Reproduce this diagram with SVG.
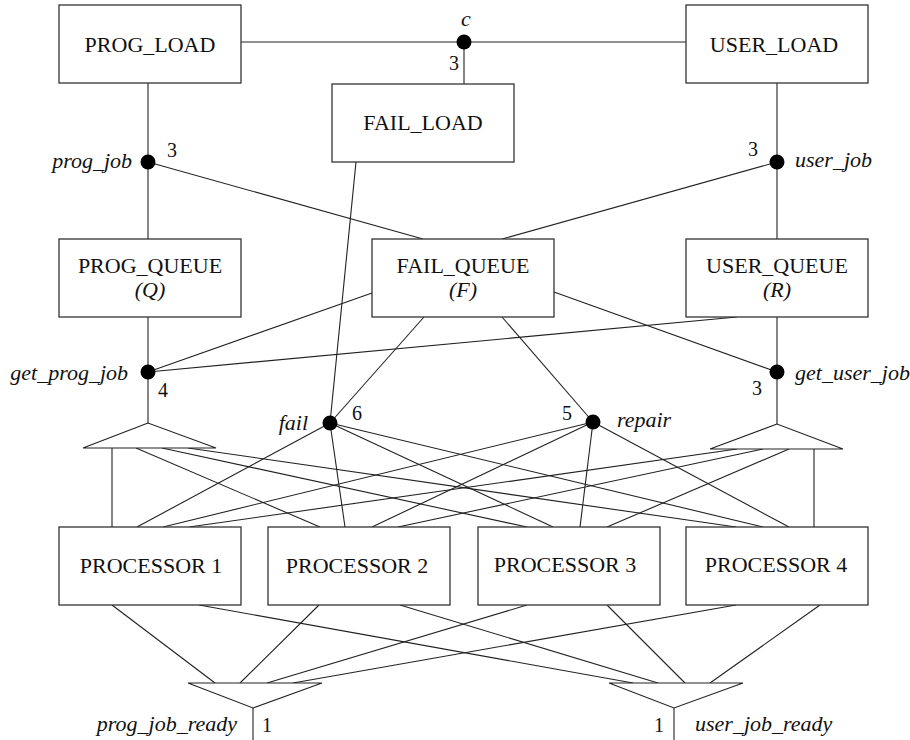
<svg xmlns="http://www.w3.org/2000/svg" width="910" height="740" viewBox="0 0 910 740">
  <style>
    .box { fill: #ffffff; stroke: #333333; stroke-width: 1.3; }
    .tri { fill: #ffffff; stroke: #222222; stroke-width: 1.1; }
    .wire { stroke: #222222; stroke-width: 1.1; fill: none; }
    .dot { fill: #000000; }
    .name { font-size: 22px; text-anchor: middle; fill: #111111; }
    .ital { font-size: 22px; font-style: italic; fill: #111111; }
    .num { font-size: 20px; fill: #111111; }
  </style>

  <!-- connectors -->
  <g id="connectors" class="wire">
    <!-- loads to the c junction -->
    <line x1="241" y1="42" x2="686" y2="42"/>
    <line x1="464" y1="42" x2="464" y2="84"/>
    <!-- load to queue paths -->
    <line x1="148" y1="83" x2="148" y2="239"/>
    <line x1="777" y1="83" x2="777" y2="239"/>
    <line x1="148" y1="162" x2="423" y2="239"/>
    <line x1="777" y1="162" x2="502" y2="239"/>
    <!-- queue to get-job junctions -->
    <line x1="148" y1="317" x2="148" y2="423"/>
    <line x1="777" y1="317" x2="777" y2="424"/>
    <line x1="148" y1="372" x2="372" y2="293"/>
    <line x1="148" y1="372" x2="737" y2="317"/>
    <line x1="777" y1="372" x2="554" y2="292"/>
    <!-- fail / repair -->
    <line x1="356" y1="162" x2="330" y2="423"/>
    <line x1="424" y1="317" x2="330" y2="423"/>
    <line x1="502" y1="317" x2="593" y2="422"/>
    <!-- prog fan-out to processors -->
    <line x1="112" y1="448" x2="112" y2="527"/>
    <line x1="136" y1="448" x2="320" y2="527"/>
    <line x1="162" y1="448" x2="527" y2="527"/>
    <line x1="188" y1="448" x2="736" y2="527"/>
    <!-- user fan-out to processors -->
    <line x1="737" y1="449" x2="189" y2="527"/>
    <line x1="763" y1="449" x2="398" y2="527"/>
    <line x1="789" y1="449" x2="607" y2="527"/>
    <line x1="814" y1="449" x2="814" y2="527"/>
    <!-- fail to processors -->
    <line x1="330" y1="423" x2="137" y2="527"/>
    <line x1="330" y1="423" x2="345" y2="527"/>
    <line x1="330" y1="423" x2="553" y2="527"/>
    <line x1="330" y1="423" x2="763" y2="527"/>
    <!-- repair to processors -->
    <line x1="593" y1="422" x2="163" y2="527"/>
    <line x1="593" y1="422" x2="372" y2="527"/>
    <line x1="593" y1="422" x2="580" y2="527"/>
    <line x1="593" y1="422" x2="789" y2="527"/>
    <!-- processors to ready merges -->
    <line x1="112" y1="605" x2="215" y2="683"/>
    <line x1="319" y1="605" x2="240" y2="683"/>
    <line x1="527" y1="605" x2="267" y2="683"/>
    <line x1="736" y1="605" x2="293" y2="683"/>
    <line x1="199" y1="605" x2="633" y2="683"/>
    <line x1="400" y1="605" x2="658" y2="683"/>
    <line x1="607" y1="605" x2="685" y2="683"/>
    <line x1="820" y1="605" x2="710" y2="683"/>
    <!-- ready outputs -->
    <line x1="253" y1="708" x2="253" y2="740"/>
    <line x1="674" y1="708" x2="674" y2="740"/>
  </g>

  <g font-family="'Liberation Serif', 'DejaVu Serif', serif">
  <!-- load nodes -->
  <g id="prog_load">
    <rect class="box" x="59" y="5" width="182" height="78"/>
    <text class="name" x="150" y="52">PROG_LOAD</text>
  </g>
  <g id="user_load">
    <rect class="box" x="686" y="5" width="182" height="78"/>
    <text class="name" x="774" y="52">USER_LOAD</text>
  </g>
  <g id="fail_load">
    <rect class="box" x="332" y="84" width="182" height="78"/>
    <text class="name" x="423" y="130">FAIL_LOAD</text>
  </g>

  <!-- queue nodes -->
  <g id="prog_queue">
    <rect class="box" x="59" y="239" width="182" height="78"/>
    <text class="name" x="150" y="273">PROG_QUEUE</text>
    <text class="name" x="150" y="297" font-style="italic">(Q)</text>
  </g>
  <g id="fail_queue">
    <rect class="box" x="372" y="239" width="182" height="78"/>
    <text class="name" x="463" y="273">FAIL_QUEUE</text>
    <text class="name" x="463" y="297" font-style="italic">(F)</text>
  </g>
  <g id="user_queue">
    <rect class="box" x="686" y="239" width="182" height="78"/>
    <text class="name" x="777" y="273">USER_QUEUE</text>
    <text class="name" x="777" y="297" font-style="italic">(R)</text>
  </g>

  <!-- junctions -->
  <g id="c">
    <circle class="dot" cx="464" cy="42" r="7.5"/>
    <text class="ital" x="461" y="26">c</text>
    <text class="num" x="449" y="70">3</text>
  </g>
  <g id="prog_job">
    <circle class="dot" cx="148" cy="162" r="7.5"/>
    <text class="ital" x="132" y="168" text-anchor="end">prog_job</text>
    <text class="num" x="167" y="157">3</text>
  </g>
  <g id="user_job">
    <circle class="dot" cx="777" cy="162" r="7.5"/>
    <text class="ital" x="795" y="167">user_job</text>
    <text class="num" x="748" y="156">3</text>
  </g>
  <g id="get_prog_job">
    <circle class="dot" cx="148" cy="372" r="7.5"/>
    <text class="ital" x="128" y="380" text-anchor="end">get_prog_job</text>
    <text class="num" x="158" y="397">4</text>
  </g>
  <g id="get_user_job">
    <circle class="dot" cx="777" cy="372" r="7.5"/>
    <text class="ital" x="795" y="380">get_user_job</text>
    <text class="num" x="752" y="395">3</text>
  </g>
  <g id="fail">
    <circle class="dot" cx="330" cy="423" r="7.5"/>
    <text class="ital" x="308" y="430" text-anchor="end">fail</text>
    <text class="num" x="352" y="420">6</text>
  </g>
  <g id="repair">
    <circle class="dot" cx="593" cy="422" r="7.5"/>
    <text class="ital" x="617" y="427">repair</text>
    <text class="num" x="562" y="420">5</text>
  </g>

  <!-- fan-out splitters -->
  <g id="prog_split">
    <polygon class="tri" points="148,423 83,448 216,448"/>
  </g>
  <g id="user_split">
    <polygon class="tri" points="777,424 710,449 843,449"/>
  </g>

  <!-- processors -->
  <g id="processor_1">
    <rect class="box" x="59" y="527" width="182" height="78"/>
    <text class="name" x="151" y="573">PROCESSOR 1</text>
  </g>
  <g id="processor_2">
    <rect class="box" x="268" y="527" width="182" height="78"/>
    <text class="name" x="357" y="573">PROCESSOR 2</text>
  </g>
  <g id="processor_3">
    <rect class="box" x="478" y="527" width="182" height="78"/>
    <text class="name" x="565" y="572">PROCESSOR 3</text>
  </g>
  <g id="processor_4">
    <rect class="box" x="686" y="527" width="182" height="78"/>
    <text class="name" x="776" y="572">PROCESSOR 4</text>
  </g>

  <!-- ready merges -->
  <g id="prog_job_ready">
    <polygon class="tri" points="188,683 322,683 253,708"/>
    <text class="ital" x="237" y="731" text-anchor="end">prog_job_ready</text>
    <text class="num" x="262" y="732">1</text>
  </g>
  <g id="user_job_ready">
    <polygon class="tri" points="609,683 743,683 674,708"/>
    <text class="ital" x="695" y="731">user_job_ready</text>
    <text class="num" x="654" y="732">1</text>
  </g>
  </g>
</svg>
